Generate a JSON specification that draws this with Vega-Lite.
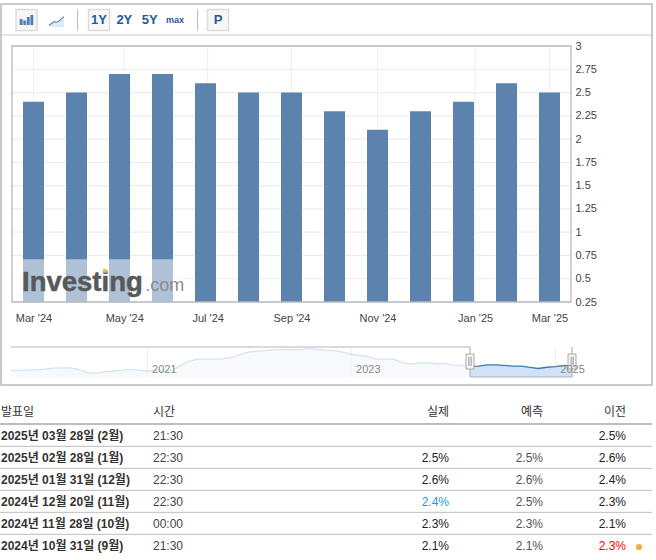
{
"$schema":"https://vega.github.io/schema/vega-lite/v6.json",
"width":656,"height":560,"padding":0,"autosize":{"type":"none"},"background":"white",
"config":{"font":"Liberation Sans, Noto Sans CJK KR","view":{"stroke":null}},
"datasets":{
"one":[{"k":1}],
"bars":[{"i":0,"month":"Mar '24","v":2.4},{"i":1,"month":"Apr '24","v":2.5},{"i":2,"month":"May '24","v":2.7},{"i":3,"month":"Jun '24","v":2.7},{"i":4,"month":"Jul '24","v":2.6},{"i":5,"month":"Aug '24","v":2.5},{"i":6,"month":"Sep '24","v":2.5},{"i":7,"month":"Oct '24","v":2.3},{"i":8,"month":"Nov '24","v":2.1},{"i":9,"month":"Dec '24","v":2.3},{"i":10,"month":"Jan '25","v":2.4},{"i":11,"month":"Feb '25","v":2.6},{"i":12,"month":"Mar '25","v":2.5}],
"yticks":[{"t":0.25},{"t":0.5},{"t":0.75},{"t":1},{"t":1.25},{"t":1.5},{"t":1.75},{"t":2},{"t":2.25},{"t":2.5},{"t":2.75},{"t":3}],
"xticks":[{"p":0},{"p":2.11},{"p":4.05},{"p":6},{"p":8},{"p":10.27},{"p":12}],
"navFull":[{"d":"2019-09-01","v":1.8},{"d":"2019-10-01","v":1.8},{"d":"2019-11-01","v":1.85},{"d":"2019-12-01","v":1.9},{"d":"2020-01-01","v":2.0},{"d":"2020-02-01","v":2.15},{"d":"2020-03-01","v":2.2},{"d":"2020-04-01","v":2.2},{"d":"2020-05-01","v":1.9},{"d":"2020-06-01","v":1.4},{"d":"2020-07-01","v":1.3},{"d":"2020-08-01","v":1.55},{"d":"2020-09-01","v":1.7},{"d":"2020-10-01","v":1.8},{"d":"2020-11-01","v":1.95},{"d":"2020-12-01","v":1.85},{"d":"2021-01-01","v":1.7},{"d":"2021-02-01","v":1.7},{"d":"2021-03-01","v":1.7},{"d":"2021-04-01","v":1.85},{"d":"2021-05-01","v":2.6},{"d":"2021-06-01","v":3.3},{"d":"2021-07-01","v":3.6},{"d":"2021-08-01","v":3.6},{"d":"2021-09-01","v":3.6},{"d":"2021-10-01","v":3.7},{"d":"2021-11-01","v":3.9},{"d":"2021-12-01","v":4.4},{"d":"2022-01-01","v":4.8},{"d":"2022-02-01","v":4.9},{"d":"2022-03-01","v":5.0},{"d":"2022-04-01","v":5.15},{"d":"2022-05-01","v":5.2},{"d":"2022-06-01","v":5.15},{"d":"2022-07-01","v":5.1},{"d":"2022-08-01","v":5.35},{"d":"2022-09-01","v":5.2},{"d":"2022-10-01","v":5.05},{"d":"2022-11-01","v":5.0},{"d":"2022-12-01","v":4.8},{"d":"2023-01-01","v":4.4},{"d":"2023-02-01","v":4.2},{"d":"2023-03-01","v":4.0},{"d":"2023-04-01","v":3.6},{"d":"2023-05-01","v":3.6},{"d":"2023-06-01","v":3.6},{"d":"2023-07-01","v":3.1},{"d":"2023-08-01","v":2.8},{"d":"2023-09-01","v":3.0},{"d":"2023-10-01","v":3.0},{"d":"2023-11-01","v":2.9},{"d":"2023-12-01","v":2.9},{"d":"2024-01-01","v":2.7},{"d":"2024-02-01","v":2.6},{"d":"2024-03-01","v":2.4}],
"navSel":[{"d":"2024-03-01","v":2.4},{"d":"2024-04-01","v":2.5},{"d":"2024-05-01","v":2.7},{"d":"2024-06-01","v":2.7},{"d":"2024-07-01","v":2.6},{"d":"2024-08-01","v":2.5},{"d":"2024-09-01","v":2.5},{"d":"2024-10-01","v":2.3},{"d":"2024-11-01","v":2.1},{"d":"2024-12-01","v":2.3},{"d":"2025-01-01","v":2.4},{"d":"2025-02-01","v":2.6},{"d":"2025-03-01","v":2.5}],
"years":[{"d":"2021-01-01"},{"d":"2023-01-01"},{"d":"2025-01-01"}],
"table":[
{"row":0,"date":"2025년 03월 28일 (2월)","time":"21:30","actual":"","forecast":"","prev":"2.5%","actualTone":"plain","prevTone":"plain"},
{"row":1,"date":"2025년 02월 28일 (1월)","time":"22:30","actual":"2.5%","forecast":"2.5%","prev":"2.6%","actualTone":"plain","prevTone":"plain"},
{"row":2,"date":"2025년 01월 31일 (12월)","time":"22:30","actual":"2.6%","forecast":"2.6%","prev":"2.4%","actualTone":"plain","prevTone":"plain"},
{"row":3,"date":"2024년 12월 20일 (11월)","time":"22:30","actual":"2.4%","forecast":"2.5%","prev":"2.3%","actualTone":"better","prevTone":"plain"},
{"row":4,"date":"2024년 11월 28일 (10월)","time":"00:00","actual":"2.3%","forecast":"2.3%","prev":"2.1%","actualTone":"plain","prevTone":"plain"},
{"row":5,"date":"2024년 10월 31일 (9월)","time":"21:30","actual":"2.1%","forecast":"2.1%","prev":"2.3%","actualTone":"plain","prevTone":"worse"}],
"header":[{"row":-1.09,"date":"발표일","time":"시간","actual":"실제","forecast":"예측","prev":"이전"}],
"tableLines":[{"row":0.47},{"row":1.47},{"row":2.47},{"row":3.47},{"row":4.47}]
},
"data":{"name":"one"},
"resolve":{"scale":{"x":"independent","y":"independent"},"axis":{"x":"independent","y":"independent"}},
"layer":[
{"layer":[
 {"mark":{"type":"rect","fill":"transparent","stroke":"#b9b9b9","strokeWidth":1.5},"encoding":{"x":{"datum":0,"scale":{"domain":[0,1],"range":[1,652]},"axis":null},"x2":{"datum":1},"y":{"datum":0,"scale":{"domain":[0,1],"range":[385,4]},"axis":null},"y2":{"datum":1}}},
 {"mark":{"type":"rule","stroke":"#c9c9c9"},"encoding":{"x":{"datum":0,"scale":{"domain":[0,1],"range":[1,652]},"axis":null},"x2":{"datum":1},"y":{"datum":0.9186,"scale":{"domain":[0,1],"range":[385,4]},"axis":null}}}
]},
{"data":{"values":[{"item":"a"},{"item":"b"}]},"mark":{"type":"rule","stroke":"#bdbdbd","strokeWidth":1},"encoding":{"x":{"field":"item","type":"nominal","scale":{"type":"point","padding":0,"domain":["a","b"],"range":[77.5,197.5]},"axis":null},"y":{"datum":0,"scale":{"domain":[0,1],"range":[9,31]},"axis":null},"y2":{"datum":1}}},
{"data":{"values":[{"item":"bar"}]},"mark":{"type":"point","shape":"square","filled":true,"opacity":1,"size":441,"fill":"#f7f7f7","stroke":"#dcdcdc","strokeWidth":1.5},"encoding":{"x":{"field":"item","type":"nominal","scale":{"type":"point","padding":0,"domain":["bar"],"range":[26.5,26.5]},"axis":null},"y":{"datum":0.5,"scale":{"domain":[0,1],"range":[9,31]},"axis":null}}},
{"data":{"values":[{"i":"a","h":6},{"i":"b","h":4.5},{"i":"c","h":8},{"i":"d","h":10}]},"mark":{"type":"bar","fill":"#4f7fb5"},"encoding":{"x":{"field":"i","type":"nominal","scale":{"type":"band","domain":["a","b","c","d"],"range":[19,34],"padding":0.2},"axis":null},"y":{"field":"h","type":"quantitative","scale":{"domain":[0,10],"range":[25,15]},"axis":null},"y2":{"datum":0}}},
{"data":{"values":[{"i":0,"h":1.5},{"i":1,"h":3},{"i":2,"h":4.5},{"i":3,"h":4},{"i":4,"h":5},{"i":5,"h":7},{"i":6,"h":8.5}]},"mark":{"type":"area","fill":"#d5e0ec","line":{"stroke":"#5f8ab8","strokeWidth":1.2}},"encoding":{"x":{"field":"i","type":"quantitative","scale":{"domain":[0,6],"range":[49,64]},"axis":null},"y":{"field":"h","type":"quantitative","scale":{"domain":[0,10],"range":[27,15]},"axis":null},"y2":{"datum":0}}},
{"data":{"values":[{"item":"1Y"},{"item":"2Y"},{"item":"5Y"},{"item":"max"}]},"layer":[
 {"transform":[{"filter":"datum.item==='1Y'"}],"mark":{"type":"point","shape":"square","filled":true,"opacity":1,"size":441,"fill":"#f7f7f7","stroke":"#dcdcdc","strokeWidth":1.5},"encoding":{"x":{"field":"item","type":"nominal","scale":{"type":"point","padding":0,"domain":["1Y","2Y","5Y","max"],"range":[99,175]},"axis":null},"y":{"datum":0.5,"scale":{"domain":[0,1],"range":[9,31]},"axis":null}}},
 {"transform":[{"filter":"datum.item!=='max'"}],"mark":{"type":"text","fontSize":13,"fontWeight":"bold","color":"#1f5a9e","baseline":"middle"},"encoding":{"text":{"field":"item"},"x":{"field":"item","type":"nominal","scale":{"type":"point","padding":0,"domain":["1Y","2Y","5Y","max"],"range":[99,175]},"axis":null},"y":{"datum":0.5,"scale":{"domain":[0,1],"range":[9,31]},"axis":null}}},
 {"transform":[{"filter":"datum.item==='max'"}],"mark":{"type":"text","fontSize":9,"fontWeight":"bold","color":"#1f5a9e","baseline":"middle"},"encoding":{"text":{"field":"item"},"x":{"field":"item","type":"nominal","scale":{"type":"point","padding":0,"domain":["1Y","2Y","5Y","max"],"range":[99,175]},"axis":null},"y":{"datum":0.5,"scale":{"domain":[0,1],"range":[9,31]},"axis":null}}}
]},
{"data":{"values":[{"item":"P"}]},"layer":[
 {"mark":{"type":"point","shape":"square","filled":true,"opacity":1,"size":441,"fill":"#f7f7f7","stroke":"#dcdcdc","strokeWidth":1.5},"encoding":{"x":{"field":"item","type":"nominal","scale":{"type":"point","padding":0,"domain":["P"],"range":[218,218]},"axis":null},"y":{"datum":0.5,"scale":{"domain":[0,1],"range":[9,31]},"axis":null}}},
 {"mark":{"type":"text","fontSize":13,"fontWeight":"bold","color":"#1f5a9e","baseline":"middle"},"encoding":{"text":{"field":"item"},"x":{"field":"item","type":"nominal","scale":{"type":"point","padding":0,"domain":["P"],"range":[218,218]},"axis":null},"y":{"datum":0.5,"scale":{"domain":[0,1],"range":[9,31]},"axis":null}}}
]},
{"layer":[
 {"data":{"name":"yticks"},"mark":{"type":"rule","stroke":"#ececec","strokeWidth":1.2},"encoding":{"x":{"datum":-0.5,"scale":{"domain":[-0.5,12.5],"padding":0,"range":[12,571]},"axis":null},"x2":{"datum":12.5},"y":{"field":"t","type":"quantitative","scale":{"domain":[0.25,3],"range":[302,46]},"axis":null}}},
 {"data":{"name":"xticks"},"mark":{"type":"rule","stroke":"#f0f0f0","strokeWidth":1.2},"encoding":{"x":{"field":"p","type":"quantitative","scale":{"domain":[-0.5,12.5],"padding":0,"range":[12,571]},"axis":null},"y":{"datum":0.25,"scale":{"domain":[0.25,3],"range":[302,46]},"axis":null},"y2":{"datum":3}}}
]},
{"data":{"name":"bars"},"mark":{"type":"bar","size":21,"fill":"#5c83ae"},"encoding":{
   "x":{"field":"i","type":"quantitative","title":null,"scale":{"domain":[-0.5,12.5],"padding":0,"range":[12,571]},"axis":{"orient":"bottom","offset":-242,"grid":false,"ticks":false,"domain":false,"labelOverlap":false,"labelFlush":false,"values":[0,2.11,4.05,6,8,10.27,12],"labelExpr":"['Mar \\'24','May \\'24','Jul \\'24','Sep \\'24','Nov \\'24','Jan \\'25','Mar \\'25'][indexof([0,2.11,4.05,6,8,10.27,12],datum.value)]","labelPadding":0,"labelBaseline":"middle","labelFontSize":11,"labelColor":"#444","labelAlign":"center"}},
   "y":{"field":"v","type":"quantitative","title":null,"scale":{"domain":[0.25,3],"range":[302,46]},"axis":{"orient":"right","offset":-85,"grid":false,"ticks":false,"domain":false,"labelOverlap":false,"values":[0.25,0.5,0.75,1,1.25,1.5,1.75,2,2.25,2.5,2.75,3],"labelExpr":"''+datum.value","labelPadding":4,"labelBaseline":"middle","labelFontSize":11,"labelColor":"#444"}},
   "y2":{"datum":0.25}}},
{"layer":[
 {"mark":{"type":"rect","fill":"white","opacity":0.5},"encoding":{"x":{"datum":-0.5,"scale":{"domain":[-0.5,12.5],"padding":0,"range":[12,571]},"axis":null},"x2":{"datum":3.55},"y":{"datum":0.25,"scale":{"domain":[0.25,3],"range":[302,46]},"axis":null},"y2":{"datum":0.71}}},
 {"mark":{"type":"rect","fill":"transparent","stroke":"#b6b9bf","strokeWidth":1.3},"encoding":{"x":{"datum":-0.5,"scale":{"domain":[-0.5,12.5],"padding":0,"range":[12,571]},"axis":null},"x2":{"datum":12.5},"y":{"datum":0.25,"scale":{"domain":[0.25,3],"range":[302,46]},"axis":null},"y2":{"datum":3}}},
 {"data":{"values":[{"word":"Investing","p":-0.267,"h":0.368}]},"mark":{"type":"text","fontSize":27.5,"fontWeight":"bold","color":"#58595b","stroke":"#58595b","strokeWidth":0.5,"align":"left","baseline":"alphabetic"},"encoding":{"text":{"field":"word"},"x":{"field":"p","type":"quantitative","scale":{"domain":[-0.5,12.5],"padding":0,"range":[12,571]},"axis":null},"y":{"field":"h","type":"quantitative","scale":{"domain":[0.25,3],"range":[302,46]},"axis":null}}},
 {"data":{"values":[{"word":".com","p":2.6,"h":0.368}]},"mark":{"type":"text","fontSize":18,"color":"#8c8c8c","align":"left","baseline":"alphabetic"},"encoding":{"text":{"field":"word"},"x":{"field":"p","type":"quantitative","scale":{"domain":[-0.5,12.5],"padding":0,"range":[12,571]},"axis":null},"y":{"field":"h","type":"quantitative","scale":{"domain":[0.25,3],"range":[302,46]},"axis":null}}},
 {"data":{"values":[{"p":1.66,"h":0.585}]},"mark":{"type":"point","shape":"square","filled":true,"opacity":1,"size":14,"fill":"#f6b84c"},"encoding":{"x":{"field":"p","type":"quantitative","scale":{"domain":[-0.5,12.5],"padding":0,"range":[12,571]},"axis":null},"y":{"field":"h","type":"quantitative","scale":{"domain":[0.25,3],"range":[302,46]},"axis":null}}}
]},
{"data":{"name":"years"},"mark":{"type":"rule","stroke":"#eeeeee"},"encoding":{"x":{"field":"d","type":"temporal","title":null,"scale":{"domain":["2019-09-01","2025-03-01"],"range":[11,572]},"axis":{"orient":"bottom","offset":-191,"grid":false,"ticks":false,"domain":false,"labelOverlap":false,"labelFlush":false,"values":[{"year":2021,"month":1,"date":2},{"year":2023,"month":1,"date":2},{"year":2025,"month":1,"date":2}],"format":"%Y","labelPadding":0,"labelBaseline":"middle","labelAlign":"left","labelOffset":4,"labelFontSize":11,"labelColor":"#888","zindex":2}},"y":{"datum":0.73,"scale":{"domain":[0.73,5.57],"range":[377,347]},"axis":null},"y2":{"datum":5.57}}},
{"layer":[
 {"data":{"name":"navFull"},"mark":{"type":"area","fill":"#f3f7fc","line":{"stroke":"#d6e4f2","strokeWidth":1.3}},"encoding":{"x":{"field":"d","type":"temporal","scale":{"domain":["2019-09-01","2025-03-01"],"range":[11,572]},"axis":null},"y":{"field":"v","type":"quantitative","scale":{"domain":[0.73,5.57],"range":[377,347]},"axis":null},"y2":{"datum":0.73}}},
 {"data":{"name":"navSel"},"mark":{"type":"area","fill":"#cfe2f8","opacity":1,"line":{"stroke":"#3f78b0","strokeWidth":1.3}},"encoding":{"x":{"field":"d","type":"temporal","scale":{"domain":["2019-09-01","2025-03-01"],"range":[11,572]},"axis":null},"y":{"field":"v","type":"quantitative","scale":{"domain":[0.73,5.57],"range":[377,347]},"axis":null},"y2":{"datum":0.73}}},
 {"data":{"values":[{"a":"2019-09-01","b":"2024-03-01","h":5.57},{"a":"2024-03-01","b":"2025-03-01","h":0.73}]},"mark":{"type":"rule","stroke":"#b5b5b5","strokeWidth":1.2},"encoding":{"x":{"field":"a","type":"temporal","scale":{"domain":["2019-09-01","2025-03-01"],"range":[11,572]},"axis":null},"x2":{"field":"b"},"y":{"field":"h","type":"quantitative","scale":{"domain":[0.73,5.57],"range":[377,347]},"axis":null}}},
 {"data":{"values":[{"a":"2024-03-01"},{"a":"2025-03-01"}]},"layer":[
  {"mark":{"type":"rule","stroke":"#b5b5b5","strokeWidth":1.2},"encoding":{"x":{"field":"a","type":"temporal","scale":{"domain":["2019-09-01","2025-03-01"],"range":[11,572]},"axis":null},"y":{"datum":0.73,"scale":{"domain":[0.73,5.57],"range":[377,347]},"axis":null},"y2":{"datum":5.57}}},
  {"mark":{"type":"rect","width":8,"fill":"#f4f4f4","stroke":"#aaaaaa"},"encoding":{"x":{"field":"a","type":"temporal","scale":{"domain":["2019-09-01","2025-03-01"],"range":[11,572]},"axis":null},"y":{"datum":2.02,"scale":{"domain":[0.73,5.57],"range":[377,347]},"axis":null},"y2":{"datum":4.44}}}
 ]},
 {"data":{"values":[{"a":"2024-02-26"},{"a":"2024-03-05"},{"a":"2025-02-26"},{"a":"2025-03-05"}]},"mark":{"type":"rule","stroke":"#999999"},"encoding":{"x":{"field":"a","type":"temporal","scale":{"domain":["2019-09-01","2025-03-01"],"range":[11,572]},"axis":null},"y":{"datum":2.5,"scale":{"domain":[0.73,5.57],"range":[377,347]},"axis":null},"y2":{"datum":4}}}
]},
{"layer":[
 {"data":{"name":"tableLines"},"mark":{"type":"rule","stroke":"#bdbdbd"},"encoding":{"x":{"datum":0,"scale":{"domain":[0,1],"range":[0,652]},"axis":null},"x2":{"datum":1},"y":{"field":"row","type":"quantitative","scale":{"domain":[0,5],"range":[436,546]},"axis":null}}},
 {"mark":{"type":"rule","stroke":"#bdbdbd","strokeWidth":2},"encoding":{"x":{"datum":0,"scale":{"domain":[0,1],"range":[0,652]},"axis":null},"x2":{"datum":1},"y":{"datum":-0.55,"scale":{"domain":[0,5],"range":[436,546]},"axis":null}}}
]},
{"data":{"name":"header"},"mark":{"type":"text","fontSize":12,"color":"#333","align":"left","baseline":"middle"},"encoding":{"text":{"field":"date"},"x":{"datum":"발표일","type":"nominal","scale":{"type":"point","padding":0,"domain":["발표일"],"range":[1,1]},"axis":null},"y":{"field":"row","type":"quantitative","scale":{"domain":[0,5],"range":[436,546]},"axis":null}}},
{"data":{"name":"table"},"mark":{"type":"text","fontSize":12,"fontWeight":"bold","color":"#333","align":"left","baseline":"middle"},"encoding":{"text":{"field":"date"},"x":{"datum":"발표일","type":"nominal","scale":{"type":"point","padding":0,"domain":["발표일"],"range":[1,1]},"axis":null},"y":{"field":"row","type":"quantitative","scale":{"domain":[0,5],"range":[436,546]},"axis":null}}},
{"data":{"name":"header"},"mark":{"type":"text","fontSize":12,"color":"#333","align":"left","baseline":"middle"},"encoding":{"text":{"field":"time"},"x":{"datum":"시간","type":"nominal","scale":{"type":"point","padding":0,"domain":["시간"],"range":[153,153]},"axis":null},"y":{"field":"row","type":"quantitative","scale":{"domain":[0,5],"range":[436,546]},"axis":null}}},
{"data":{"name":"table"},"mark":{"type":"text","fontSize":12,"color":"#444","align":"left","baseline":"middle"},"encoding":{"text":{"field":"time"},"x":{"datum":"시간","type":"nominal","scale":{"type":"point","padding":0,"domain":["시간"],"range":[153,153]},"axis":null},"y":{"field":"row","type":"quantitative","scale":{"domain":[0,5],"range":[436,546]},"axis":null}}},
{"data":{"name":"header"},"mark":{"type":"text","fontSize":12,"color":"#333","align":"right","baseline":"middle"},"encoding":{"text":{"field":"actual"},"x":{"datum":"실제","type":"nominal","scale":{"type":"point","padding":0,"domain":["실제"],"range":[449,449]},"axis":null},"y":{"field":"row","type":"quantitative","scale":{"domain":[0,5],"range":[436,546]},"axis":null}}},
{"data":{"name":"table"},"mark":{"type":"text","fontSize":12,"align":"right","baseline":"middle"},"encoding":{"text":{"field":"actual"},"color":{"field":"actualTone","type":"nominal","scale":{"domain":["plain","better","worse"],"range":["#222222","#1a9be8","#ff0000"]},"legend":null},"x":{"datum":"실제","type":"nominal","scale":{"type":"point","padding":0,"domain":["실제"],"range":[449,449]},"axis":null},"y":{"field":"row","type":"quantitative","scale":{"domain":[0,5],"range":[436,546]},"axis":null}}},
{"data":{"name":"header"},"mark":{"type":"text","fontSize":12,"color":"#333","align":"right","baseline":"middle"},"encoding":{"text":{"field":"forecast"},"x":{"datum":"예측","type":"nominal","scale":{"type":"point","padding":0,"domain":["예측"],"range":[543,543]},"axis":null},"y":{"field":"row","type":"quantitative","scale":{"domain":[0,5],"range":[436,546]},"axis":null}}},
{"data":{"name":"table"},"mark":{"type":"text","fontSize":12,"color":"#555","align":"right","baseline":"middle"},"encoding":{"text":{"field":"forecast"},"x":{"datum":"예측","type":"nominal","scale":{"type":"point","padding":0,"domain":["예측"],"range":[543,543]},"axis":null},"y":{"field":"row","type":"quantitative","scale":{"domain":[0,5],"range":[436,546]},"axis":null}}},
{"data":{"name":"header"},"mark":{"type":"text","fontSize":12,"color":"#333","align":"right","baseline":"middle"},"encoding":{"text":{"field":"prev"},"x":{"datum":"이전","type":"nominal","scale":{"type":"point","padding":0,"domain":["이전"],"range":[626,626]},"axis":null},"y":{"field":"row","type":"quantitative","scale":{"domain":[0,5],"range":[436,546]},"axis":null}}},
{"data":{"name":"table"},"mark":{"type":"text","fontSize":12,"align":"right","baseline":"middle"},"encoding":{"text":{"field":"prev"},"color":{"field":"prevTone","type":"nominal","scale":{"domain":["plain","better","worse"],"range":["#222222","#1a9be8","#ff0000"]},"legend":null},"x":{"datum":"이전","type":"nominal","scale":{"type":"point","padding":0,"domain":["이전"],"range":[626,626]},"axis":null},"y":{"field":"row","type":"quantitative","scale":{"domain":[0,5],"range":[436,546]},"axis":null}}},
{"data":{"name":"table"},"transform":[{"filter":"datum.prevTone==='worse'"}],"mark":{"type":"point","shape":"circle","filled":true,"opacity":1,"size":38,"fill":"#eeb044"},"encoding":{"x":{"datum":"flag","type":"nominal","scale":{"type":"point","padding":0,"domain":["flag"],"range":[639,639]},"axis":null},"y":{"field":"row","type":"quantitative","scale":{"domain":[0,5],"range":[437,547]},"axis":null}}}
]
}
